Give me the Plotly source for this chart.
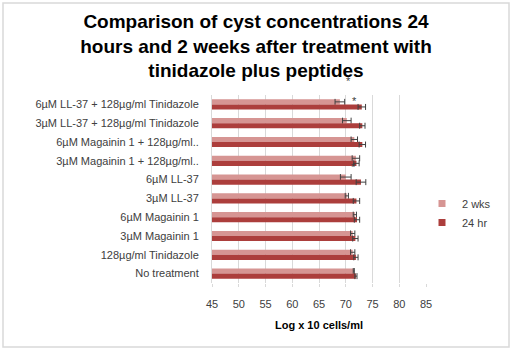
import plotly.graph_objects as go

categories = [
    "6µM LL-37 + 128µg/ml Tinidazole",
    "3µM LL-37 + 128µg/ml Tinidazole",
    "6µM Magainin 1 + 128µg/ml..",
    "3µM Magainin 1 + 128µg/ml..",
    "6µM LL-37",
    "3µM LL-37",
    "6µM Magainin 1",
    "3µM Magainin 1",
    "128µg/ml Tinidazole",
    "No treatment",
]
wks2 = [68.9, 70.2, 71.6, 71.9, 70.0, 70.2, 71.7, 71.3, 71.3, 71.5]
wks2_err = [0.9, 0.8, 0.6, 0.7, 1.0, 0.3, 0.3, 0.4, 0.4, 0.1]
hr24 = [73.0, 73.1, 73.1, 72.0, 72.85, 72.0, 72.1, 71.8, 71.9, 71.9]
hr24_err = [0.7, 0.5, 0.6, 0.5, 0.9, 0.6, 0.5, 0.5, 0.4, 0.2]
x_ticks = [45, 50, 55, 60, 65, 70, 75, 80, 85]
series_names = ["2 wks", "24 hr"]
series_colors = ["#D69593", "#AC3E3C"]

fig = go.Figure()
fig.add_trace(go.Bar(
    name=series_names[0], y=categories, x=wks2, orientation="h", showlegend=False,
    marker=dict(color=series_colors[0], line=dict(width=0)),
    error_x=dict(type="data", array=wks2_err, color="#404040", thickness=1, width=3),
))
fig.add_trace(go.Bar(
    name=series_names[1], y=categories, x=hr24, orientation="h", showlegend=False,
    marker=dict(color=series_colors[1], line=dict(width=0)),
    error_x=dict(type="data", array=hr24_err, color="#404040", thickness=1, width=3),
))
for nm, col in zip(series_names, series_colors):
    fig.add_trace(go.Scatter(
        name=nm, x=[None], y=[None], mode="markers",
        marker=dict(symbol="square", size=7, color=col), showlegend=True,
    ))

L, R, T, B = 212, 86, 95, 68
pw, ph = 512 - L - R, 351 - T - B

star_font = dict(size=11, color="#404040", family="Liberation Sans, Arial")
fig.add_annotation(x=70.6, y=(351 - B - 73) / ph, xref="x", yref="paper", text="*",
                   showarrow=False, font=star_font)
fig.add_annotation(x=71.6, y=-0.2, xref="x", yref="y", text="*", showarrow=False, font=star_font)
fig.add_annotation(x=71.5, y=3.35, xref="x", yref="y", text="*", showarrow=False, font=star_font)

fig.add_shape(type="rect", xref="paper", yref="paper",
              x0=(3 - L) / pw, x1=(509 - L) / pw,
              y0=(351 - B - 347) / ph, y1=(351 - B - 3) / ph,
              line=dict(color="#D9D9D9", width=1.5), fillcolor="rgba(0,0,0,0)", layer="below")

fig.update_layout(
    width=512, height=351,
    margin=dict(l=L, r=R, t=T, b=B, autoexpand=False),
    paper_bgcolor="white", plot_bgcolor="white",
    barmode="group", bargap=0.46, bargroupgap=0,
    font=dict(family="Liberation Sans, Arial", size=11, color="#404040"),
    title=dict(
        text="Comparison of cyst concentrations 24<br>hours and 2 weeks after treatment with<br>tinidazole plus peptides",
        x=0.5, xref="container", y=1 - 28 / 351, yref="container", yanchor="top", xanchor="center",
        font=dict(family="Liberation Sans, Arial", size=19, color="black", weight="bold"),
    ),
    xaxis=dict(
        range=[45, 85], tickvals=x_ticks, showgrid=True, gridcolor="#D9D9D9", gridwidth=1,
        zeroline=False, showline=False, ticks="outside", ticklen=3, tickcolor="#D9D9D9",
        ticklabelstandoff=8, tickfont=dict(size=11, color="#404040"),
        title=dict(text="<b>Log x 10 cells/ml</b>", font=dict(size=11, color="black"), standoff=12),
    ),
    yaxis=dict(
        range=[9.5, -0.5], showline=True, linecolor="#D9D9D9", linewidth=1,
        ticks="", ticklabelstandoff=10, tickfont=dict(size=11, color="#404040"),
    ),
    legend=dict(
        xref="container", yref="container",
        x=422 / 512, xanchor="left", y=1 - 189 / 351, yanchor="top",
        font=dict(size=11, color="#404040"), itemwidth=30, tracegroupgap=4,
        bgcolor="rgba(0,0,0,0)",
    ),
)

fig.write_html("out.html")
